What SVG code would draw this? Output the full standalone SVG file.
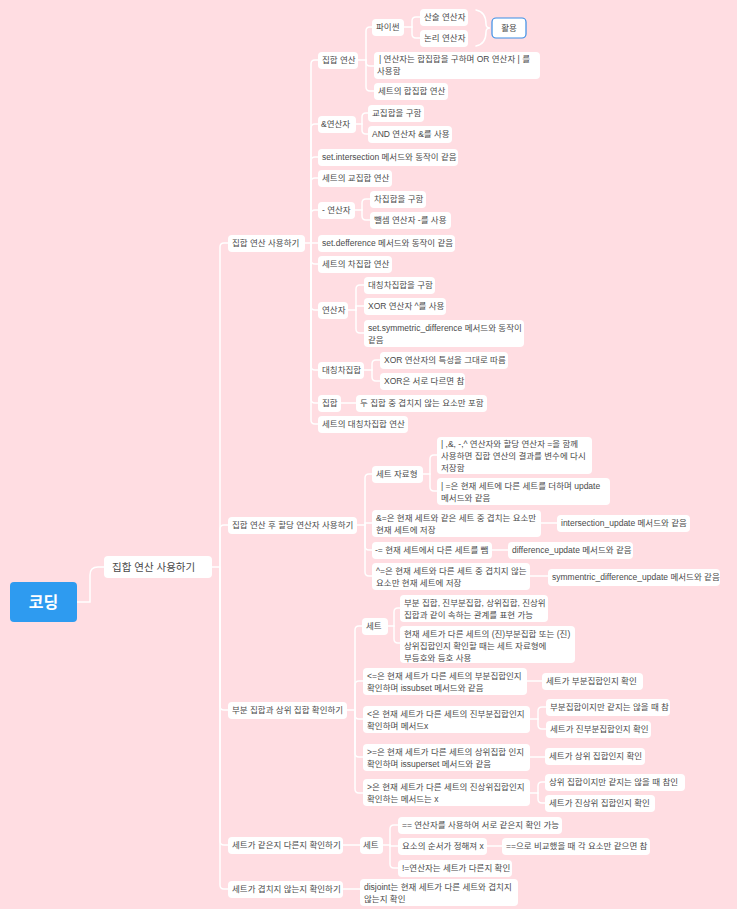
<svg xmlns="http://www.w3.org/2000/svg" width="737" height="909" viewBox="0 0 737 909">
<style>
text{font-family:"Liberation Sans","Noto Sans CJK KR",sans-serif;font-size:8.5px;fill:#4a4a4a}
.n rect{fill:#fff}
.c path{fill:none;stroke:#fff;stroke-width:1.5;stroke-linecap:round}
</style>
<rect width="737" height="909" fill="#ffdde2"/>
<g class="c">
<path d="M77 602 H90 V575 Q90 567 98 567 H104"/>
<path d="M212 567 H220"/>
<path d="M220 567 V247 Q220 243 224 243 H228"/>
<path d="M220 567 V529 Q220 525 224 525 H228"/>
<path d="M220 567 V706 Q220 710 224 710 H228"/>
<path d="M220 567 V841 Q220 845 224 845 H228"/>
<path d="M220 567 V885 Q220 889 224 889 H228"/>
<path d="M305 243 H311"/>
<path d="M311 243 V64 Q311 60 315 60 H318"/>
<path d="M311 243 V128 Q311 124 315 124 H318"/>
<path d="M311 243 V161 Q311 157 315 157 H318"/>
<path d="M311 243 V182 Q311 178 315 178 H318"/>
<path d="M311 243 V214 Q311 210 315 210 H318"/>
<path d="M311 243 H318"/>
<path d="M311 243 V260 Q311 264 315 264 H318"/>
<path d="M311 243 V306 Q311 310 315 310 H318"/>
<path d="M311 243 V366 Q311 370 315 370 H318"/>
<path d="M311 243 V399 Q311 403 315 403 H318"/>
<path d="M311 243 V420 Q311 424 315 424 H318"/>
<path d="M358 60 H366"/>
<path d="M366 60 V31 Q366 27 370 27 H372"/>
<path d="M366 60 V62 Q366 66 370 66 H374"/>
<path d="M366 60 V87 Q366 91 370 91 H374"/>
<path d="M404 27 H412"/>
<path d="M412 27 V21 Q412 17 416 17 H420"/>
<path d="M412 27 V34 Q412 38 416 38 H420"/>
<path d="M356 124 H362"/>
<path d="M362 124 V117 Q362 113 366 113 H368"/>
<path d="M362 124 V130 Q362 134 366 134 H368"/>
<path d="M355 210 H362"/>
<path d="M362 210 V203 Q362 199 366 199 H370"/>
<path d="M362 210 V216 Q362 220 366 220 H370"/>
<path d="M348 310 H356"/>
<path d="M356 310 V289 Q356 285 360 285 H364"/>
<path d="M356 310 V306 H364"/>
<path d="M356 310 V329 Q356 333 360 333 H364"/>
<path d="M364 370 H372"/>
<path d="M372 370 V364 Q372 360 376 360 H380"/>
<path d="M372 370 V377 Q372 381 376 381 H380"/>
<path d="M341 403 H356"/>
<path d="M357 525 H365"/>
<path d="M365 525 V478 Q365 474 369 474 H372"/>
<path d="M365 525 V523 H372"/>
<path d="M365 525 V546 Q365 550 369 550 H372"/>
<path d="M365 525 V572 Q365 576 369 576 H372"/>
<path d="M423 474 H430"/>
<path d="M430 474 V459 Q430 455 434 455 H437"/>
<path d="M430 474 V487 Q430 491 434 491 H437"/>
<path d="M541 523 H557"/>
<path d="M492 550 H508"/>
<path d="M530 576 H548"/>
<path d="M347 710 H355"/>
<path d="M355 710 V630 Q355 626 359 626 H362"/>
<path d="M355 710 V685 Q355 681 359 681 H363"/>
<path d="M355 710 V715 Q355 719 359 719 H363"/>
<path d="M355 710 V753 Q355 757 359 757 H363"/>
<path d="M355 710 V789 Q355 793 359 793 H363"/>
<path d="M388 626 H394"/>
<path d="M394 626 V612 Q394 608 398 608 H400"/>
<path d="M394 626 V639 Q394 643 398 643 H400"/>
<path d="M527 681 H542"/>
<path d="M530 719 H538"/>
<path d="M538 719 V711 Q538 707 542 707 H546"/>
<path d="M538 719 V725 Q538 729 542 729 H546"/>
<path d="M530 757 H545"/>
<path d="M530 793 H538"/>
<path d="M538 793 V786 Q538 782 542 782 H545"/>
<path d="M538 793 V799 Q538 803 542 803 H545"/>
<path d="M343 845 H360"/>
<path d="M383 845 H390"/>
<path d="M390 845 V829 Q390 825 394 825 H398"/>
<path d="M390 845 V846 H398"/>
<path d="M390 845 V864 Q390 868 394 868 H398"/>
<path d="M487 846 H502"/>
<path d="M343 889 H360"/>
<path d="M476 10 Q486 12 486 24 Q486 28 490 28 Q486 28 486 32 Q486 44 476 46" stroke="#3a8ee6" stroke-width="1.2"/>
</g>
<g id="root"><rect x="10" y="582" width="67" height="40" rx="4" fill="#2e9bf0"/><text x="43.5" y="608" text-anchor="middle" style="font-size:16px;fill:#fff;font-weight:bold">코딩</text></g>
<g class="n">
<g id="l1"><rect x="104" y="556" width="108" height="22" rx="4"/><text x="112" y="571" style="font-size:10.5px">집합 연산 사용하기</text></g>
<g id="a"><rect x="228" y="235" width="77" height="17" rx="4"/><text x="232" y="246">집합 연산 사용하기</text></g>
<g id="b"><rect x="228" y="517" width="129" height="17" rx="4"/><text x="232" y="528">집합 연산 후 할당 연산자 사용하기</text></g>
<g id="c"><rect x="228" y="702" width="119" height="17" rx="4"/><text x="232" y="713">부분 집합과 상위 집합 확인하기</text></g>
<g id="d"><rect x="228" y="837" width="115" height="17" rx="4"/><text x="232" y="848">세트가 같은지 다른지 확인하기</text></g>
<g id="e"><rect x="228" y="881" width="115" height="17" rx="4"/><text x="232" y="892">세트가 겹치지 않는지 확인하기</text></g>
<g id="a1"><rect x="318" y="52" width="40" height="17" rx="4"/><text x="322" y="63">집합 연산</text></g>
<g id="a2"><rect x="318" y="116" width="38" height="17" rx="4"/><text x="321" y="127">&amp;연산자</text></g>
<g id="a3"><rect x="318" y="149" width="140" height="17" rx="4"/><text x="322" y="160">set.intersection 메서드와 동작이 같음</text></g>
<g id="a4"><rect x="318" y="170" width="74" height="17" rx="4"/><text x="322" y="181">세트의 교집합 연산</text></g>
<g id="a5"><rect x="318" y="202" width="37" height="17" rx="4"/><text x="322" y="213">- 연산자</text></g>
<g id="a6"><rect x="318" y="235" width="137" height="17" rx="4"/><text x="322" y="246">set.defference 메서드와 동작이 같음</text></g>
<g id="a7"><rect x="318" y="256" width="74" height="17" rx="4"/><text x="322" y="267">세트의 차집합 연산</text></g>
<g id="a8"><rect x="318" y="302" width="30" height="17" rx="4"/><text x="322" y="313">연산자</text></g>
<g id="a9"><rect x="318" y="362" width="46" height="17" rx="4"/><text x="322" y="373">대칭차집합</text></g>
<g id="a10"><rect x="318" y="395" width="23" height="17" rx="4"/><text x="322" y="406">집합</text></g>
<g id="a11"><rect x="318" y="416" width="90" height="17" rx="4"/><text x="322" y="427">세트의 대칭차집합 연산</text></g>
<g id="p"><rect x="372" y="19" width="32" height="17" rx="4"/><text x="376" y="30">파이썬</text></g>
<g id="p1"><rect x="420" y="9" width="48" height="17" rx="4"/><text x="424" y="20">산술 연산자</text></g>
<g id="p2"><rect x="420" y="30" width="48" height="17" rx="4"/><text x="424" y="41">논리 연산자</text></g>
<g id="use"><rect x="492" y="18" width="34" height="20" rx="4" stroke="#3a8ee6" stroke-width="1.2"/><text x="509" y="31" text-anchor="middle">활용</text></g>
<g id="u1"><rect x="374" y="52" width="166" height="27" rx="4"/><text x="379" y="62">| 연산자는 합집합을 구하며 OR 연산자 | 를</text><text x="377" y="74">사용함</text></g>
<g id="u2"><rect x="374" y="83" width="74" height="17" rx="4"/><text x="378" y="94">세트의 합집합 연산</text></g>
<g id="i1"><rect x="368" y="105" width="56" height="17" rx="4"/><text x="372" y="116">교집합을 구함</text></g>
<g id="i2"><rect x="368" y="126" width="84" height="17" rx="4"/><text x="372" y="137">AND 연산자 &amp;를 사용</text></g>
<g id="m1"><rect x="370" y="191" width="56" height="17" rx="4"/><text x="374" y="202">차집합을 구함</text></g>
<g id="m2"><rect x="370" y="212" width="81" height="17" rx="4"/><text x="374" y="223">뺄셈 연산자 -를 사용</text></g>
<g id="x1"><rect x="364" y="277" width="71" height="17" rx="4"/><text x="368" y="288">대칭차집합을 구함</text></g>
<g id="x2"><rect x="364" y="298" width="82" height="17" rx="4"/><text x="368" y="309">XOR 연산자 ^를 사용</text></g>
<g id="x3"><rect x="364" y="320" width="160" height="27" rx="4"/><text x="368" y="331">set.symmetric_difference 메서드와 동작이</text><text x="368" y="343">같음</text></g>
<g id="y1"><rect x="380" y="352" width="128" height="17" rx="4"/><text x="384" y="363">XOR 연산자의 특성을 그대로 따름</text></g>
<g id="y2"><rect x="380" y="373" width="85" height="17" rx="4"/><text x="384" y="384">XOR은 서로 다르면 참</text></g>
<g id="z1"><rect x="356" y="395" width="131" height="17" rx="4"/><text x="360" y="406">두 집합 중 겹치지 않는 요소만 포함</text></g>
<g id="b1"><rect x="372" y="466" width="51" height="17" rx="4"/><text x="376" y="477">세트 자료형</text></g>
<g id="b11"><rect x="437" y="437" width="155" height="37" rx="4"/><text x="441" y="447">| ,&amp;, -,^ 연산자와 할당 연산자 =을 함께</text><text x="441" y="459">사용하면 집합 연산의 결과를 변수에 다시</text><text x="441" y="471">저장함</text></g>
<g id="b12"><rect x="437" y="478" width="173" height="27" rx="4"/><text x="441" y="489">| =은 현재 세트에 다른 세트를 더하며 update</text><text x="441" y="501">메서드와 같음</text></g>
<g id="b2"><rect x="372" y="510" width="169" height="27" rx="4"/><text x="376" y="521">&amp;=은 현재 세트와 같은 세트 중 겹치는 요소만</text><text x="376" y="533">현재 세트에 저장</text></g>
<g id="b21"><rect x="557" y="515" width="133" height="17" rx="4"/><text x="561" y="526">intersection_update 메서드와 같음</text></g>
<g id="b3"><rect x="372" y="542" width="120" height="17" rx="4"/><text x="375" y="553">-= 현재 세트에서 다른 세트를 뺌</text></g>
<g id="b31"><rect x="508" y="542" width="125" height="17" rx="4"/><text x="512" y="553">difference_update 메서드와 같음</text></g>
<g id="b4"><rect x="372" y="563" width="158" height="27" rx="4"/><text x="376" y="574">^=은 현재 세트와 다른 세트 중 겹치지 않는</text><text x="376" y="586">요소만 현재 세트에 저장</text></g>
<g id="b41"><rect x="548" y="569" width="172" height="17" rx="4"/><text x="552" y="580">symmentric_difference_update 메서드와 같음</text></g>
<g id="c1"><rect x="362" y="618" width="26" height="17" rx="4"/><text x="366" y="629">세트</text></g>
<g id="c11"><rect x="400" y="595" width="148" height="27" rx="4"/><text x="404" y="606">부분 집합, 진부분집합, 상위집합, 진상위</text><text x="404" y="618">집합과 같이 속하는 관계를 표현 가능</text></g>
<g id="c12"><rect x="400" y="626" width="175" height="37" rx="4"/><text x="404" y="637">현재 세트가 다른 세트의 (진)부분집합 또는 (진)</text><text x="404" y="649">상위집합인지 확인할 때는 세트 자료형에</text><text x="404" y="661">부등호와 등호 사용</text></g>
<g id="c2"><rect x="363" y="668" width="164" height="27" rx="4"/><text x="367" y="679">&lt;=은 현재 세트가 다른 세트의 부분집합인지</text><text x="367" y="691">확인하며 issubset 메서드와 같음</text></g>
<g id="c21"><rect x="542" y="673" width="101" height="17" rx="4"/><text x="546" y="684">세트가 부분집합인지 확인</text></g>
<g id="c3"><rect x="363" y="706" width="167" height="27" rx="4"/><text x="367" y="717">&lt;은 현재 세트가 다른 세트의 진부분집합인지</text><text x="367" y="729">확인하며 메서드x</text></g>
<g id="c31"><rect x="546" y="699" width="124" height="17" rx="4"/><text x="550" y="710">부분집합이지만 같지는 않을 때 참</text></g>
<g id="c32"><rect x="546" y="721" width="105" height="17" rx="4"/><text x="550" y="732">세트가 진부분집합인지 확인</text></g>
<g id="c4"><rect x="363" y="744" width="167" height="27" rx="4"/><text x="367" y="755">&gt;=은 현재 세트가 다른 세트의 상위집합 인지</text><text x="367" y="767">확인하며 issuperset 메서드와 같음</text></g>
<g id="c41"><rect x="545" y="748" width="100" height="17" rx="4"/><text x="549" y="759">세트가 상위 집합인지 확인</text></g>
<g id="c5"><rect x="363" y="779" width="167" height="27" rx="4"/><text x="367" y="790">&gt;은 현재 세트가 다른 세트의 진상위집합인지</text><text x="367" y="802">확인하는 메서드는 x</text></g>
<g id="c51"><rect x="545" y="774" width="140" height="17" rx="4"/><text x="549" y="785">상위 집합이지만 같지는 않을 때 참인</text></g>
<g id="c52"><rect x="545" y="795" width="110" height="17" rx="4"/><text x="549" y="806">세트가 진상위 집합인지 확인</text></g>
<g id="d1"><rect x="360" y="837" width="23" height="17" rx="4"/><text x="363" y="848">세트</text></g>
<g id="d11"><rect x="398" y="817" width="164" height="17" rx="4"/><text x="402" y="828">== 연산자를 사용하여 서로 같은지 확인 가능</text></g>
<g id="d12"><rect x="398" y="838" width="89" height="17" rx="4"/><text x="402" y="849">요소의 순서가 정해져 x</text></g>
<g id="d121"><rect x="502" y="838" width="148" height="17" rx="4"/><text x="506" y="849">==으로 비교했을 때 각 요소만 같으면 참</text></g>
<g id="d13"><rect x="398" y="860" width="114" height="17" rx="4"/><text x="402" y="871">!=연산자는 세트가 다른지 확인</text></g>
<g id="e1"><rect x="360" y="879" width="158" height="27" rx="4"/><text x="364" y="890">disjoint는 현재 세트가 다른 세트와 겹치지</text><text x="364" y="902">않는지 확인</text></g>
</g>
</svg>
